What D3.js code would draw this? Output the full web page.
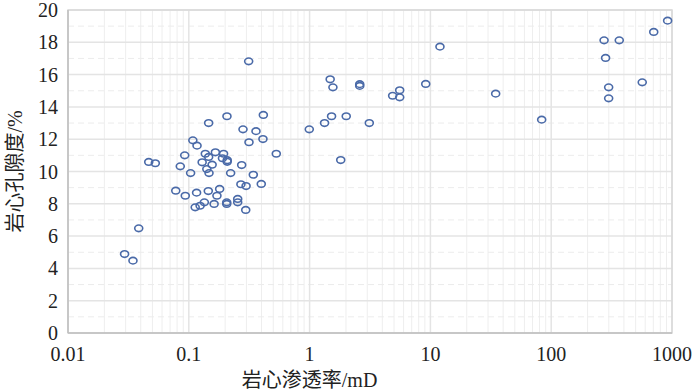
<!DOCTYPE html>
<html>
<head>
<meta charset="utf-8">
<script src="https://cdn.jsdelivr.net/npm/d3@7"></script>
<style>
  body { margin: 0; background: #fff; }
  text { font-family: "Liberation Serif", "DejaVu Serif", "Noto Sans CJK SC", serif; }
</style>
</head>
<body>
<script>
(function(){
  var width = 700, height = 391;
  var margin = { left: 68, right: 28, top: 10, bottom: 58 };

  // core permeability (mD) and porosity (%)
  var permeability = [
    0.313, 1.48, 1.56, 2.6, 2.6, 0.207, 0.146, 0.414, 0.281, 0.36,
    0.411, 0.315, 0.53, 0.108, 0.117, 0.0925, 0.137, 0.166, 0.194, 0.19,
    0.208, 0.208, 0.146, 0.129, 0.156, 0.085, 0.141, 0.147, 0.1035, 0.222,
    0.274, 0.342, 0.0466, 0.0528, 0.994, 1.33, 1.52, 2.01, 3.12, 1.81,
    0.078, 0.0935, 0.116, 0.145, 0.18, 0.171, 0.113, 0.124, 0.1345, 0.162,
    0.206, 0.206, 0.254, 0.254, 0.296, 0.27, 0.298, 0.398, 0.0385, 0.0294,
    0.0345, 4.87, 5.57, 5.57, 9.15, 12.0, 34.7, 83.4, 274, 366,
    282, 299, 299, 567, 706, 920
  ];
  var porosity = [
    16.82, 15.71, 15.21, 15.41, 15.3, 13.42, 13.0, 13.5, 12.61, 12.5,
    12.01, 11.81, 11.1, 11.93, 11.6, 11.0, 11.1, 11.19, 11.1, 10.82,
    10.7, 10.6, 10.9, 10.57, 10.42, 10.32, 10.15, 9.9, 9.9, 9.9,
    10.4, 9.8, 10.59, 10.51, 12.61, 13.0, 13.42, 13.42, 13.0, 10.71,
    8.81, 8.5, 8.69, 8.79, 8.92, 8.5, 7.78, 7.88, 8.09, 7.99,
    8.09, 7.99, 8.3, 8.09, 7.62, 9.21, 9.1, 9.23, 6.48, 4.89,
    4.48, 14.69, 15.03, 14.59, 15.42, 17.73, 14.82, 13.21, 18.12, 18.12,
    17.03, 15.21, 14.53, 15.52, 18.64, 19.34
  ];
  var xTicks = [0.01, 0.1, 1, 10, 100, 1000];
  var xTickLabels = ["0.01", "0.1", "1", "10", "100", "1000"];
  var yTicks = [0, 2, 4, 6, 8, 10, 12, 14, 16, 18, 20];
  var xTitle = "岩心渗透率/mD";
  var yTitle = "岩心孔隙度/%";

  var svg = d3.select("body").append("svg")
    .attr("width", width)
    .attr("height", height);

  var x = d3.scaleLog().domain([0.01, 1000]).range([margin.left, width - margin.right]);
  var y = d3.scaleLinear().domain([0, 20]).range([height - margin.bottom, margin.top]);

  // minor vertical grid
  var minorX = [];
  for (var d = 0.01; d < 1000; d *= 10) {
    for (var k = 2; k <= 9; k++) minorX.push(d * k);
  }
  svg.append("g").selectAll("line").data(minorX).enter().append("line")
    .attr("x1", d => x(d)).attr("x2", d => x(d))
    .attr("y1", y(0)).attr("y2", y(20))
    .style("stroke", "#eeeeee").style("stroke-width", 1);

  // minor horizontal grid (dashed)
  var minorY = d3.range(1, 20, 2);
  svg.append("g").selectAll("line").data(minorY).enter().append("line")
    .attr("x1", x(0.01)).attr("x2", x(1000))
    .attr("y1", d => y(d)).attr("y2", d => y(d))
    .style("stroke", "#ececec").style("stroke-dasharray", "6,4");

  // major grid
  svg.append("g").selectAll("line").data(xTicks).enter().append("line")
    .attr("x1", d => x(d)).attr("x2", d => x(d))
    .attr("y1", y(0)).attr("y2", y(20))
    .style("stroke", "#e4e4e4").style("stroke-width", 1.5);
  svg.append("g").selectAll("line").data(yTicks).enter().append("line")
    .attr("x1", x(0.01)).attr("x2", x(1000))
    .attr("y1", d => y(d)).attr("y2", d => y(d))
    .style("stroke", "#e4e4e4").style("stroke-width", 1.5);

  // frame
  svg.append("rect")
    .attr("x", x(0.01)).attr("y", y(20))
    .attr("width", x(1000) - x(0.01)).attr("height", y(0) - y(20))
    .style("fill", "none").style("stroke", "#d9d9d9").style("stroke-width", 1.5);
  svg.append("line")
    .attr("x1", x(0.01)).attr("x2", x(0.01)).attr("y1", y(0)).attr("y2", y(20))
    .style("stroke", "#bfbfbf").style("stroke-width", 1.5);
  svg.append("line")
    .attr("x1", x(0.01)).attr("x2", x(1000)).attr("y1", y(0)).attr("y2", y(0))
    .style("stroke", "#bfbfbf").style("stroke-width", 1.5);

  // tick labels
  svg.append("g").selectAll("text").data(xTicks).enter().append("text")
    .attr("x", d => x(d)).attr("y", y(0) + 28)
    .attr("text-anchor", "middle")
    .style("font-size", "20px").style("fill", "#222")
    .text((d, i) => xTickLabels[i]);
  svg.append("g").selectAll("text").data(yTicks).enter().append("text")
    .attr("x", x(0.01) - 10).attr("y", d => y(d) + 7)
    .attr("text-anchor", "end")
    .style("font-size", "20px").style("fill", "#222")
    .text(d => d);

  // titles
  svg.append("text")
    .attr("x", x(1)).attr("y", height - 4)
    .attr("text-anchor", "middle")
    .style("font-size", "20px").style("fill", "#222")
    .text(xTitle);
  svg.append("text")
    .attr("transform", "translate(22," + y(10) + ") rotate(-90)")
    .attr("text-anchor", "middle")
    .style("font-size", "20px").style("fill", "#222")
    .text(yTitle);

  // points
  svg.append("g").selectAll("ellipse").data(permeability).enter().append("ellipse")
    .attr("cx", d => x(d))
    .attr("cy", (d, i) => y(porosity[i]))
    .attr("rx", 4).attr("ry", 3.3)
    .style("fill", "none")
    .style("stroke", "#4a6aa8")
    .style("stroke-width", 1.6);
})();
</script>
</body>
</html>
